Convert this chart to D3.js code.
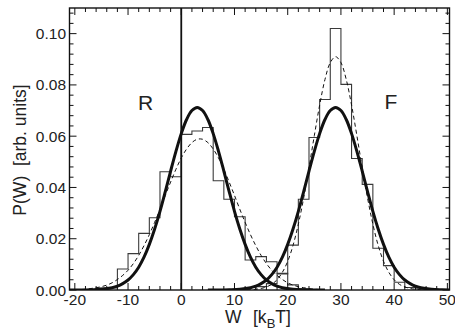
<!DOCTYPE html>
<html><head><meta charset="utf-8">
<script src="https://cdn.jsdelivr.net/npm/d3@7"></script>
<style>
html,body{margin:0;padding:0;background:#fff;}
svg{display:block;font-family:"Liberation Sans",Arial,Helvetica,sans-serif;}
</style></head>
<body>
<svg id="chart" width="455" height="334"></svg>
<script>
// ---------- data ----------
const xTicks = [-20, -10, 0, 10, 20, 30, 40, 50];
const yTicks = [0, 0.02, 0.04, 0.06, 0.08, 0.10];
const xDomain = [-21, 50.4];
const yDomain = [0, 0.11];

// histogram of reverse work (bin left edges, bin width 2)
const histREdges = [-16, -14, -12, -10, -8, -6, -4, -2, 0, 2, 4, 6, 8, 10, 12, 14, 16, 18, 20, 22];
const histRValues = [0.0008, 0.0008, 0.0082, 0.0142, 0.0221, 0.0282, 0.0461, 0.0442, 0.0607, 0.0620, 0.0634, 0.0426, 0.0354, 0.0286, 0.0117, 0.0130, 0.0110, 0.0065, 0.0020, 0.0005];
// histogram of forward work
const histFEdges = [14, 16, 18, 20, 22, 24, 26, 28, 30, 32, 34, 36, 38, 40, 42, 44];
const histFValues = [0.0013, 0.0025, 0.0063, 0.0175, 0.0354, 0.0595, 0.0743, 0.1020, 0.0802, 0.0513, 0.0412, 0.0163, 0.0095, 0.0030, 0.0010, 0.0005];
const binWidth = 2;

// thick fitted curves
const fitRX = [-21, -19, -17, -15, -13, -12, -11, -10, -9, -8, -7, -6, -5, -4, -3, -2, -1, 0, 1, 2, 3, 4, 5, 6, 7, 8, 9, 10, 11, 12, 13, 14, 15, 16, 17, 18, 19, 21, 23, 25, 27];
const fitRY = [0.0000, 0.0000, 0.0001, 0.0003, 0.0009, 0.0015, 0.0025, 0.0039, 0.0060, 0.0089, 0.0128, 0.0178, 0.0238, 0.0307, 0.0384, 0.0464, 0.0541, 0.0610, 0.0665, 0.0700, 0.0712, 0.0700, 0.0665, 0.0610, 0.0541, 0.0464, 0.0384, 0.0307, 0.0238, 0.0178, 0.0128, 0.0089, 0.0060, 0.0039, 0.0025, 0.0015, 0.0009, 0.0003, 0.0001, 0.0000, 0.0000];
const fitFX = [5, 7, 9, 11, 13, 14, 15, 16, 17, 18, 19, 20, 21, 22, 23, 24, 25, 26, 27, 28, 29, 30, 31, 32, 33, 34, 35, 36, 37, 38, 39, 40, 41, 42, 43, 44, 45, 47, 49, 51];
const fitFY = [0.0000, 0.0000, 0.0001, 0.0003, 0.0009, 0.0015, 0.0025, 0.0039, 0.0060, 0.0089, 0.0128, 0.0178, 0.0238, 0.0307, 0.0384, 0.0464, 0.0541, 0.0610, 0.0665, 0.0700, 0.0712, 0.0700, 0.0665, 0.0610, 0.0541, 0.0464, 0.0384, 0.0307, 0.0238, 0.0178, 0.0128, 0.0089, 0.0060, 0.0039, 0.0025, 0.0015, 0.0009, 0.0003, 0.0001, 0.0000];

// dashed curves
const dashRX = [-20, -18, -16, -15, -14, -13, -12, -11, -10, -9, -8, -7, -6, -5, -4, -3, -2, -1, 0, 1, 2, 3, 4, 5, 6, 7, 8, 9, 10, 11, 12, 13, 14, 15, 16, 17, 18, 19, 20, 21, 22, 23, 25, 27];
const dashRY = [0.0001, 0.0003, 0.0009, 0.0013, 0.0019, 0.0028, 0.0041, 0.0057, 0.0077, 0.0103, 0.0135, 0.0173, 0.0216, 0.0264, 0.0315, 0.0369, 0.0421, 0.0471, 0.0515, 0.0550, 0.0575, 0.0588, 0.0588, 0.0575, 0.0550, 0.0515, 0.0471, 0.0421, 0.0369, 0.0315, 0.0264, 0.0216, 0.0173, 0.0135, 0.0103, 0.0077, 0.0057, 0.0041, 0.0028, 0.0019, 0.0013, 0.0009, 0.0003, 0.0001];
const dashFX = [11, 13, 15, 16, 17, 18, 19, 20, 21, 22, 23, 24, 25, 26, 27, 28, 29, 30, 31, 32, 33, 34, 35, 36, 37, 38, 39, 40, 41, 42, 43, 45, 47];
const dashFY = [0.0000, 0.0001, 0.0006, 0.0012, 0.0022, 0.0040, 0.0069, 0.0112, 0.0174, 0.0257, 0.0359, 0.0477, 0.0602, 0.0721, 0.0821, 0.0887, 0.0910, 0.0887, 0.0821, 0.0721, 0.0602, 0.0477, 0.0359, 0.0257, 0.0174, 0.0112, 0.0069, 0.0040, 0.0022, 0.0012, 0.0006, 0.0001, 0.0000];

const labels = [{t: "R", x: -6.7, y: 0.0702}, {t: "F", x: 39.4, y: 0.0706}];

// ---------- drawing ----------
const svg = d3.select("#chart");
const M = {left: 69.5, right: 449.5, top: 8, bottom: 290};
const x = d3.scaleLinear().domain(xDomain).range([M.left, M.right]);
const y = d3.scaleLinear().domain(yDomain).range([M.bottom, M.top]);

svg.append("defs").append("clipPath").attr("id", "clip")
  .append("rect").attr("x", M.left).attr("y", M.top)
  .attr("width", M.right - M.left).attr("height", M.bottom - M.top);

const plot = svg.append("g").attr("clip-path", "url(#clip)");

function histPath(edges, vals) {
  const pts = [[edges[0], 0]];
  edges.forEach((e, i) => { pts.push([e, vals[i]]); pts.push([e + binWidth, vals[i]]); });
  pts.push([edges[edges.length - 1] + binWidth, 0]);
  return d3.line().x(d => x(d[0])).y(d => y(d[1]))(pts);
}
[[histREdges, histRValues], [histFEdges, histFValues]].forEach(([e, v]) => {
  plot.append("path").attr("d", histPath(e, v))
    .attr("fill", "none").attr("stroke", "#3a3a3a").attr("stroke-width", 1.1);
});

const curve = d3.line().x(d => x(d[0])).y(d => y(d[1])).curve(d3.curveCatmullRom);
function zip(a, b) { return a.map((v, i) => [v, b[i]]); }

[[dashRX, dashRY], [dashFX, dashFY]].forEach(([a, b]) => {
  plot.append("path").attr("d", curve(zip(a, b)))
    .attr("fill", "none").attr("stroke", "#111").attr("stroke-width", 1)
    .attr("stroke-dasharray", "4,3");
});
[[fitRX, fitRY], [fitFX, fitFY]].forEach(([a, b]) => {
  plot.append("path").attr("d", curve(zip(a, b)))
    .attr("fill", "none").attr("stroke", "#111").attr("stroke-width", 3);
});

// vertical line at W = 0
svg.append("line").attr("x1", x(0)).attr("x2", x(0)).attr("y1", y(yDomain[0])).attr("y2", y(yDomain[1]))
  .attr("stroke", "#111").attr("stroke-width", 1.8);

// frame
svg.append("rect").attr("x", M.left).attr("y", M.top)
  .attr("width", M.right - M.left).attr("height", M.bottom - M.top)
  .attr("fill", "none").attr("stroke", "#111").attr("stroke-width", 1.4);

// ticks (inward, all four sides)
const majL = 7, minL = 4;
const xMinor = d3.range(-20, 51, 2);
const yMinor = d3.range(0, 0.1101, 0.004);
const tickG = svg.append("g").attr("stroke", "#111").attr("stroke-width", 1);
xMinor.forEach(v => {
  const L = xTicks.includes(v) ? majL : minL;
  tickG.append("line").attr("x1", x(v)).attr("x2", x(v)).attr("y1", M.bottom).attr("y2", M.bottom - L);
  tickG.append("line").attr("x1", x(v)).attr("x2", x(v)).attr("y1", M.top).attr("y2", M.top + L);
});
yMinor.forEach(v => {
  const L = yTicks.some(t => Math.abs(t - v) < 1e-6) ? majL : minL;
  tickG.append("line").attr("y1", y(v)).attr("y2", y(v)).attr("x1", M.left).attr("x2", M.left + L);
  tickG.append("line").attr("y1", y(v)).attr("y2", y(v)).attr("x1", M.right).attr("x2", M.right - L);
});

// tick labels
const fs = 15.5;
xTicks.forEach(v => {
  svg.append("text").attr("x", x(v)).attr("y", 305).attr("text-anchor", "middle")
    .attr("font-size", fs).attr("fill", "#222").text(String(v));
});
const yf = d3.format(".2f");
yTicks.forEach(v => {
  svg.append("text").attr("x", 66).attr("y", y(v) + 5.5).attr("text-anchor", "end")
    .attr("font-size", fs).attr("fill", "#222").text(yf(v));
});

// axis titles
const xt = svg.append("text").attr("x", 225).attr("y", 323).attr("font-size", 17.5).attr("fill", "#222");
xt.append("tspan").text("W");
xt.append("tspan").attr("x", 253).text("[k");
xt.append("tspan").attr("dy", 5).attr("font-size", 13).text("B");
xt.append("tspan").attr("dy", -5).text("T]");

svg.append("text").attr("transform", "translate(26,150) rotate(-90)")
  .attr("text-anchor", "middle").attr("font-size", 17.5).attr("fill", "#222")
  .text("P(W)\u00a0\u00a0[arb. units]");

// R / F labels
labels.forEach(l => {
  svg.append("text").attr("x", x(l.x)).attr("y", y(l.y)).attr("text-anchor", "middle")
    .attr("font-size", 21).attr("fill", "#222").text(l.t);
});
</script>
</body></html>
